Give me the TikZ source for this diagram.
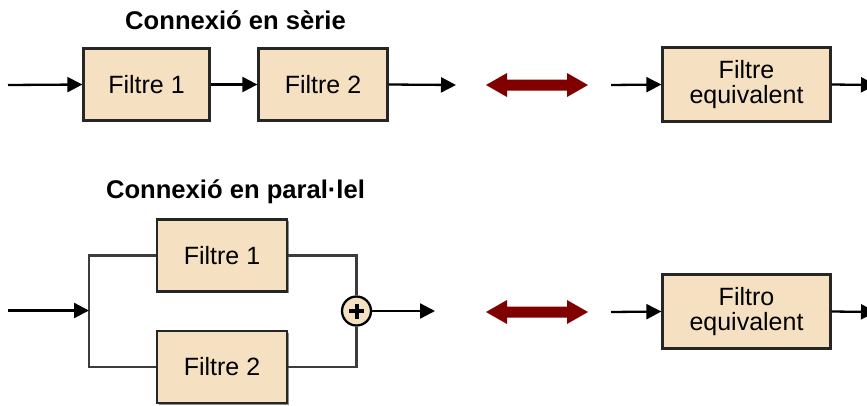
\documentclass[tikz,border=0pt]{standalone}
\usepackage{fontspec}
\setmainfont{Liberation Sans}
\usetikzlibrary{arrows.meta,shadows}
\definecolor{boxfill}{RGB}{245,225,193}
\definecolor{darkred}{RGB}{128,0,0}
\definecolor{branch}{RGB}{60,60,60}
\tikzset{
  filterbox/.style={draw=black!85, line width=2.3pt, fill=boxfill, align=center,
    font=\fontsize{25}{25}\selectfont, inner sep=0pt,
    drop shadow={shadow xshift=1.5pt, shadow yshift=-1.5pt, fill=black!45, opacity=1}},
  titletext/.style={font=\bfseries\fontsize{25.6}{30}\selectfont, inner sep=0pt, anchor=base},
  sig/.style={line width=2.3pt, draw=black, -{Triangle[length=15pt,width=15pt]}},
  branchline/.style={line width=2.3pt, draw=branch},
  adder/.style={circle, draw=black, line width=2.3pt, fill=boxfill, minimum size=29pt, inner sep=0pt},
  equiv/.style={fill=darkred, draw=none}
}
\begin{document}
\begin{tikzpicture}[x=1pt,y=-1pt]
\useasboundingbox (0,0) rectangle (867,405);

% ---------- series ----------
\node[titletext] (t1) at (235.5,29) {Connexió en sèrie};
\node[filterbox, minimum width=126pt, minimum height=72pt] (s1) at (146.5,84.5) {Filtre 1};
\node[filterbox, minimum width=129pt, minimum height=72pt] (s2) at (323,84.5) {Filtre 2};
\coordinate (in1) at (8,85);
\coordinate (out1) at (456,85);
\draw[sig] (in1) -- (s1.west);
\draw[sig] (s1.east) -- (s2.west);
\draw[sig] (s2.east) -- (out1);

\fill[equiv] (486,85) -- (507,73) -- (507,79.5) -- (567,79.5) -- (567,73) -- (588,85)
  -- (567,97) -- (567,90.5) -- (507,90.5) -- (507,97) -- cycle;

\node[filterbox, minimum width=168pt, minimum height=74pt] (se) at (746.5,84.5) {Filtre\\equivalent};
\coordinate (ein1) at (611,85);
\coordinate (eout1) at (876,85);
\draw[sig] (ein1) -- (se.west);
\draw[sig] (se.east) -- (eout1);

% ---------- parallel ----------
\node[titletext] (t2) at (235.5,198) {Connexió en paral·lel};
\node[filterbox, minimum width=130pt, minimum height=72pt] (p1) at (222,255.5) {Filtre 1};
\node[filterbox, minimum width=130pt, minimum height=72pt] (p2) at (222,367) {Filtre 2};
\node[adder] (add) at (356.5,311) {};
\draw[line width=4pt] ([xshift=-7.5pt]add.center) -- ([xshift=7.5pt]add.center);
\draw[line width=4pt] ([yshift=-7.5pt]add.center) -- ([yshift=7.5pt]add.center);
\coordinate (in2) at (8,310.5);
\coordinate (j) at (89,310.5);
\coordinate (out2) at (435,311);
\draw[branchline] (p1.west) -| (j) |- (p2.west);
\draw[sig] (in2) -- (j);
\draw[branchline] (p1.east) -| (add.north);
\draw[branchline] (p2.east) -| (add.south);
\draw[sig] (add.east) -- (out2);

\fill[equiv] (486,312) -- (507,300) -- (507,306.5) -- (567,306.5) -- (567,300) -- (588,312)
  -- (567,324) -- (567,317.5) -- (507,317.5) -- (507,324) -- cycle;

\node[filterbox, minimum width=168pt, minimum height=74pt] (pe) at (746.5,311.5) {Filtro\\equivalent};
\coordinate (ein2) at (611,312);
\coordinate (eout2) at (876,312);
\draw[sig] (ein2) -- (pe.west);
\draw[sig] (pe.east) -- (eout2);
\end{tikzpicture}
\end{document}
